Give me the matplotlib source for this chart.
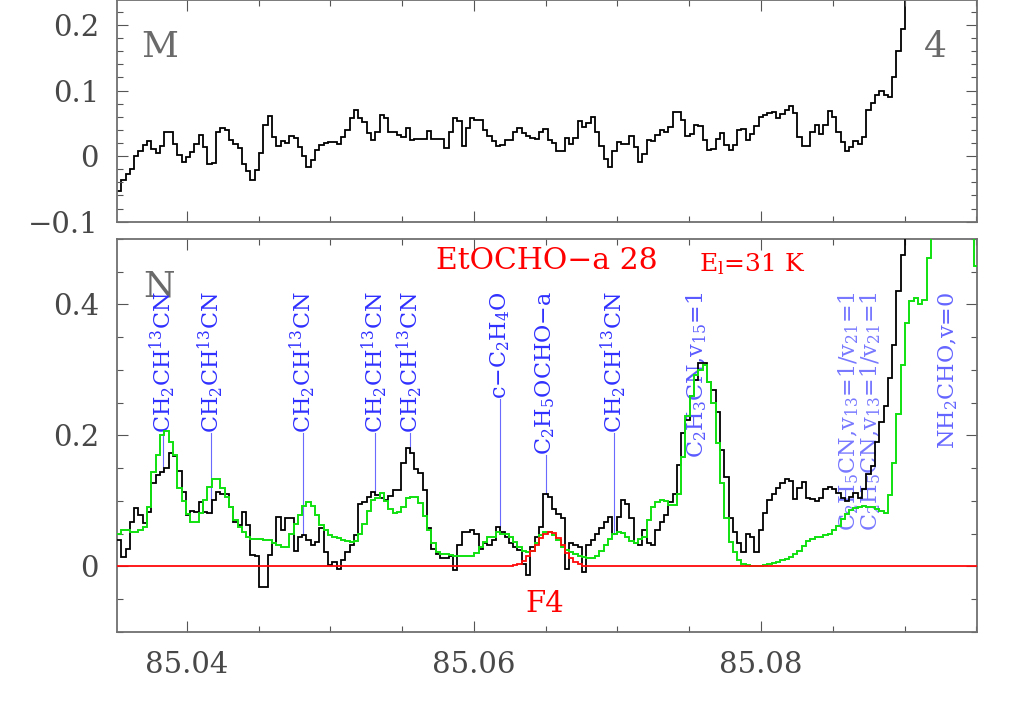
import numpy as np
import matplotlib
matplotlib.use("Agg")
import matplotlib.pyplot as plt
from matplotlib.ticker import MultipleLocator, FuncFormatter

# ---------------- data ----------------
freq_start = 85.03514      # GHz, left edge of first channel
chan_width = 0.0003        # GHz

# upper panel (M 4) observed spectrum
obs_top = [
    -0.053, -0.037, -0.027, -0.019, 0.000, 0.008, 0.017, 0.023, 0.011, 0.004,
    0.015, 0.037, 0.037, 0.019, 0.002, -0.009, -0.001, 0.007, 0.019, 0.032,
    0.014, -0.012, -0.010, 0.037, 0.043, 0.040, 0.025, 0.018, 0.012, -0.012,
    -0.022, -0.036, -0.021, 0.004, 0.048, 0.061, 0.029, 0.015, 0.023, 0.020,
    0.031, 0.028, 0.014, 0.000, -0.016, -0.006, 0.010, 0.017, 0.020, 0.021,
    0.021, 0.019, 0.029, 0.040, 0.058, 0.071, 0.058, 0.052, 0.035, 0.025,
    0.036, 0.063, 0.058, 0.036, 0.037, 0.032, 0.029, 0.043, 0.025, 0.026,
    0.026, 0.026, 0.038, 0.026, 0.026, 0.026, 0.013, 0.037, 0.058, 0.053,
    0.016, 0.043, 0.058, 0.055, 0.055, 0.040, 0.030, 0.023, 0.016,
    0.017, 0.025, 0.025, 0.037, 0.043, 0.035, 0.030, 0.028, 0.026, 0.036,
    0.041, 0.025, 0.020, 0.008, 0.008, 0.027, 0.018, 0.027, 0.053, 0.045,
    0.050, 0.060, 0.036, 0.016, -0.004, -0.016, 0.008, 0.022, 0.019, 0.019,
    0.030, 0.014, -0.009, 0.003, 0.025, 0.023, 0.032, 0.040, 0.036, 0.045,
    0.068, 0.068, 0.055, 0.031, 0.034, 0.047, 0.046, 0.025, 0.009, 0.011,
    0.026, 0.035, 0.017, 0.009, 0.017, 0.040, 0.042, 0.025, 0.034, 0.046,
    0.059, 0.063, 0.065, 0.067, 0.058, 0.064, 0.070, 0.076, 0.065, 0.029,
    0.016, 0.016, 0.036, 0.047, 0.034, 0.047, 0.069, 0.059, 0.036, 0.022,
    0.008, 0.014, 0.023, 0.018, 0.029, 0.070, 0.081, 0.093, 0.100, 0.093,
    0.090, 0.120, 0.160, 0.194,
    0.30, 0.36, 0.42, 0.48, 0.54, 0.58, 0.62, 0.66, 0.70, 0.73,
    0.76, 0.79, 0.82, 0.84, 0.86, 0.88, 0.90,
]

# lower panel (N) observed spectrum
obs = [
    0.040, 0.014, 0.027, 0.068, 0.089, 0.078, 0.066, 0.083, 0.127, 0.139,
    0.144, 0.150, 0.173, 0.168, 0.146, 0.114, 0.078, 0.085, 0.083, 0.098,
    0.083, 0.081, 0.101, 0.114, 0.110, 0.111, 0.090, 0.068, 0.063, 0.083,
    0.063, 0.017, 0.015, -0.032, -0.032, 0.017, 0.035, 0.075, 0.055, 0.073,
    0.073,
    0.024, 0.045, 0.047, 0.040, 0.032, 0.037, 0.058, 0.022, 0.002, 0.007,
    -0.004, 0.009, 0.022, 0.032, 0.047, 0.095, 0.098, 0.106, 0.114, 0.109,
    0.104, 0.101, 0.108, 0.116, 0.117, 0.157, 0.180, 0.173, 0.148, 0.143,
    0.116, 0.058, 0.027, 0.019, 0.012, 0.012, 0.015, -0.006, 0.032, 0.053,
    0.053, 0.056, 0.050, 0.027, 0.035, 0.032, 0.040, 0.060, 0.053, 0.045,
    0.035, 0.030, 0.025, 0.004, -0.014, 0.030, 0.045, 0.060, 0.111, 0.106,
    0.088, 0.080, 0.073, -0.004, 0.035, 0.032, 0.030, -0.009, 0.032, 0.040,
    0.050, 0.058, 0.068, 0.075, 0.050, 0.075, 0.101, 0.095, 0.073, 0.035,
    0.032,
    0.055, 0.035, 0.033, 0.055, 0.068, 0.078, 0.098, 0.111, 0.155, 0.203,
    0.223, 0.260, 0.285, 0.310, 0.310, 0.282, 0.269, 0.236, 0.178, 0.137,
    0.073, 0.053, 0.035, 0.022, 0.050, 0.045, 0.022, 0.055, 0.081, 0.101,
    0.111, 0.120, 0.127, 0.134, 0.130, 0.102, 0.120, 0.129, 0.105, 0.103,
    0.100, 0.105,
    0.118, 0.121, 0.118, 0.112, 0.104, 0.100, 0.106, 0.112, 0.104, 0.118,
    0.141, 0.153, 0.190, 0.220, 0.245, 0.287, 0.338, 0.420, 0.476, 0.56,
    0.62, 0.68, 0.74, 0.80, 0.85, 0.90, 0.95, 1.00, 1.05, 1.10,
    1.12, 1.15, 1.18, 1.20, 1.22, 1.25,
]

# full model (all species)
model_all = [
    0.050, 0.055, 0.055, 0.053, 0.052, 0.055, 0.060, 0.090, 0.144, 0.170,
    0.200, 0.206, 0.190, 0.170, 0.120, 0.100, 0.080, 0.068, 0.068, 0.081,
    0.101, 0.121, 0.133, 0.133, 0.119, 0.106, 0.091, 0.070, 0.060, 0.053,
    0.045, 0.042, 0.042, 0.042, 0.040, 0.040, 0.035, 0.032, 0.030, 0.030,
    0.050, 0.065,
    0.078, 0.092, 0.098, 0.092, 0.078, 0.063, 0.055, 0.048, 0.045, 0.043,
    0.040, 0.038, 0.037, 0.039, 0.050, 0.065, 0.085, 0.101, 0.105, 0.112,
    0.100, 0.088, 0.081, 0.083, 0.091, 0.104, 0.106, 0.106, 0.096, 0.076,
    0.055, 0.035, 0.022, 0.019, 0.018, 0.017, 0.016, 0.015, 0.015, 0.015,
    0.016,
    0.020, 0.029, 0.037, 0.045, 0.045, 0.053, 0.050, 0.050, 0.045, 0.037,
    0.029, 0.024, 0.022, 0.024, 0.035, 0.047, 0.052, 0.052, 0.048, 0.040,
    0.030, 0.025, 0.022, 0.019, 0.016, 0.014, 0.013, 0.013, 0.016, 0.024,
    0.032, 0.042, 0.050, 0.053, 0.051, 0.045, 0.038, 0.036, 0.042,
    0.045, 0.070, 0.090, 0.098, 0.101, 0.099, 0.093, 0.093, 0.110, 0.167,
    0.229, 0.260, 0.292, 0.300, 0.308, 0.282, 0.249, 0.188, 0.127, 0.073,
    0.037, 0.022, 0.009, 0.004, 0.002, 0.001, 0.001, 0.001, 0.002, 0.004,
    0.005, 0.006, 0.009, 0.011, 0.014, 0.019, 0.024, 0.031, 0.039, 0.042,
    0.044, 0.045,
    0.047, 0.050, 0.055, 0.062, 0.072, 0.080, 0.086, 0.089, 0.091, 0.092,
    0.091, 0.090, 0.088, 0.084, 0.082, 0.109, 0.158, 0.232, 0.308, 0.372,
    0.405, 0.410, 0.401, 0.407, 0.471, 0.55, 0.60, 0.65, 0.70, 0.74,
    0.78, 0.80, 0.82, 0.84, 0.85, 0.459,
]

# EtOCHO-a model
etocho_line = [0.0005, 0.001, 0.002, 0.004, 0.008, 0.015, 0.024, 0.033, 0.043, 0.050,
               0.053, 0.051, 0.043, 0.032, 0.020, 0.012, 0.007, 0.003, 0.001]
model_etocho = [0.0] * 90 + etocho_line + [0.0] * 91

# line identifications
line_freqs = [85.03835, 85.04169, 85.04810, 85.05312, 85.05556, 85.06183,
              85.06500, 85.06977, 85.07549, 85.08608, 85.08761, 85.09305]
line_names = ["CH$_2$CH$^{13}$CN", "CH$_2$CH$^{13}$CN", "CH$_2$CH$^{13}$CN",
              "CH$_2$CH$^{13}$CN", "CH$_2$CH$^{13}$CN", "c\u2212C$_2$H$_4$O",
              "C$_2$H$_5$OCHO\u2212a", "CH$_2$CH$^{13}$CN", "C$_2$H$_3$CN,v$_{15}$=1",
              "C$_2$H$_5$CN,v$_{13}$=1/v$_{21}$=1", "C$_2$H$_5$CN,v$_{13}$=1/v$_{21}$=1",
              "NH$_2$CHO,v=0"]
line_colors = ["#3030ff"] * 8 + ["#5a5aff", "#7878ff", "#7878ff", "#6464ff"]

# ---------------- style ----------------
plt.rcParams["font.family"] = ["DejaVu Serif", "DejaVu Sans"]
plt.rcParams["mathtext.fontset"] = "dejavuserif"

grey = "#555555"
xlim = (85.03514, 85.09505)

fig = plt.figure(figsize=(10.25, 7.17), dpi=100)
ax1 = fig.add_axes([0.1141, 0.6908, 0.8391, 0.3092])
ax2 = fig.add_axes([0.1141, 0.1190, 0.8391, 0.5477])


def edges_for(vals):
    return freq_start + chan_width * np.arange(len(vals) + 1)


yfmt = FuncFormatter(lambda v, p: ("%g" % round(v, 6)).replace("-", "\u2212"))
xfmt = FuncFormatter(lambda v, p: "%.2f" % v)

for ax in (ax1, ax2):
    ax.set_xlim(*xlim)
    ax.xaxis.set_major_locator(MultipleLocator(0.02))
    ax.xaxis.set_minor_locator(MultipleLocator(0.005))
    ax.tick_params(which="both", direction="in", top=True, right=True,
                   color=grey, width=0.8, labelcolor="#484848", labelsize=21)
    ax.tick_params(which="major", length=8)
    ax.tick_params(which="minor", length=4.3)
    ax.tick_params(axis="y", pad=13)
    ax.tick_params(axis="x", pad=14)
    for s in ax.spines.values():
        s.set_color("#707070")
        s.set_linewidth(1.3)
    ax.yaxis.set_major_formatter(yfmt)

# top panel
ax1.set_ylim(-0.1, 0.238)
ax1.yaxis.set_major_locator(MultipleLocator(0.1))
ax1.yaxis.set_minor_locator(MultipleLocator(0.02))
ax1.tick_params(axis="x", labelbottom=False)
ax1.stairs(obs_top, edges_for(obs_top), baseline=None, color="black", lw=1.3)
ax1.text(0.05, 0.788, "M", transform=ax1.transAxes, ha="center", va="center",
         fontsize=26, color="#6a6a6a")
ax1.text(0.951, 0.788, "4", transform=ax1.transAxes, ha="center", va="center",
         fontsize=26, color="#6a6a6a")

# bottom panel
ax2.set_ylim(-0.1, 0.5)
ax2.yaxis.set_major_locator(MultipleLocator(0.2))
ax2.yaxis.set_minor_locator(MultipleLocator(0.05))
ax2.xaxis.set_major_formatter(xfmt)
ax2.stairs(obs, edges_for(obs), baseline=None, color="black", lw=1.3, zorder=3)
ax2.stairs(model_all, edges_for(model_all), baseline=None, color="#10e010", lw=1.4, zorder=4)
ax2.stairs(model_etocho, edges_for(model_etocho), baseline=None, color="#ff0a0a", lw=1.3, zorder=5)

ax2.text(0.049, 0.88, "N", transform=ax2.transAxes, ha="center", va="center",
         fontsize=26, color="#6a6a6a", zorder=2)
ax2.text(85.0651, 0.467, "EtOCHO\u2212a 28", fontsize=21.5, color="red",
         ha="center", va="center", zorder=6)
ax2.text(85.0794, 0.462, "E$_\\mathrm{l}$=31 K", fontsize=18, color="red",
         ha="center", va="center", zorder=6)
ax2.text(85.06497, -0.057, "F4", fontsize=21, color="red",
         ha="center", va="center", zorder=6)

texts = []
for f, name, c in zip(line_freqs, line_names, line_colors):
    t = ax2.text(f, 0.42, name, fontsize=16, color=c, rotation=90,
                 ha="center", va="top", zorder=2)
    texts.append(t)

fig.canvas.draw()
renderer = fig.canvas.get_renderer()
inv = ax2.transData.inverted()
for t, f, c in zip(texts, line_freqs, line_colors):
    bb = t.get_window_extent(renderer)
    y_bottom = inv.transform((0, bb.y0))[1]
    idx = int((f - freq_start) / chan_width)
    y_spec = obs[idx]
    if y_spec < y_bottom - 0.01:
        ax2.plot([f, f], [y_bottom, y_spec], color="#6a6aff", lw=0.8, zorder=1)

fig.savefig("out.png", dpi=100)
